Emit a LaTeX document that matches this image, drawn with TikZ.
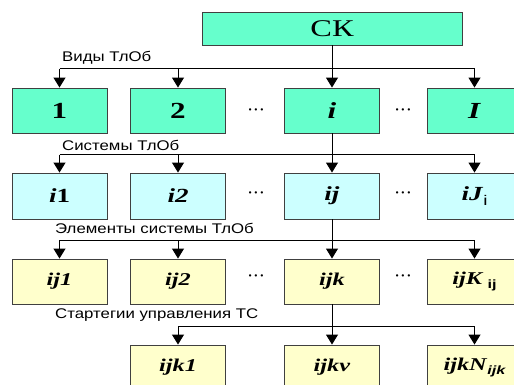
\documentclass[tikz,border=0pt]{standalone}
\usepackage{fontspec}
\setmainfont{Liberation Serif}
\newfontfamily\lsans{Liberation Sans}
\usepackage{graphicx}
\usetikzlibrary{arrows.meta}
\definecolor{aqua}{HTML}{66FFCC}
\definecolor{cyanl}{HTML}{CCFFFF}
\definecolor{yell}{HTML}{FFFFCC}
\definecolor{edge}{HTML}{404040}
\newcommand{\hx}[1]{\scalebox{1.35}[1]{#1}}
\newcommand{\lx}[1]{\scalebox{1.2}[1]{#1}}
\newcommand{\fA}{\fontsize{23}{23}\selectfont\bfseries}
\newcommand{\fB}{\fontsize{20}{20}\selectfont\bfseries}
\newcommand{\fC}{\fontsize{18}{18}\selectfont\bfseries}
\newcommand{\mydots}{\textbf{·\kern1.2pt·\kern1.2pt·}}
\begin{document}
\begin{tikzpicture}[x=1pt,y=-1pt,
 box/.style={draw=edge, line width=0.9pt, minimum width=95pt, minimum height=45pt, inner sep=0pt, anchor=center},
 gbox/.style={box, fill=aqua},
 cbox/.style={box, fill=cyanl},
 ybox/.style={box, fill=yell},
 bus/.style={line width=1pt},
 arr/.style={line width=1pt, -{Triangle[width=12pt,length=10pt]}},
 lab/.style={font=\lsans\fontsize{14}{14}\selectfont, anchor=west, inner sep=0pt},
 dotsn/.style={inner sep=0pt, font=\fontsize{14}{14}\selectfont}
]
\useasboundingbox (0,0) rectangle (514,385);
\clip (0,0) rectangle (514,385);
\fill[white] (0,0) rectangle (514,385);

% top
\node[gbox, minimum width=260pt, minimum height=33pt] (ck) at (332,28.5) {\fontsize{24}{24}\selectfont\hx{СК}};

% row 1
\node[gbox] (a1) at (59.5,110.5) {\fA\hx{1}};
\node[gbox] (a2) at (178,110.5) {\fA\hx{2}};
\node[gbox] (a3) at (332,110.5) {\fA\hx{\textit{i}}};
\node[gbox] (a4) at (474.5,110.5) {\fA\hx{\textit{I}}};

% row 2
\node[cbox, minimum height=46pt] (b1) at (59.5,196) {\fB\hx{\textit{i}1}};
\node[cbox, minimum height=46pt] (b2) at (178,196) {\fB\hx{\textit{i2}}};
\node[cbox, minimum height=46pt] (b3) at (332,196) {\fB\hx{\textit{ij}}};
\node[cbox, minimum height=46pt] (b4) at (474.5,196) {\fB\hx{\textit{iJ}\raisebox{-0.25em}{\fontsize{14}{14}\selectfont\lsans\mdseries\upshape i}}};

% row 3
\node[ybox] (c1) at (59.5,281.5) {\fC\hx{\textit{ij1}}};
\node[ybox] (c2) at (178,281.5) {\fC\hx{\textit{ij2}}};
\node[ybox] (c3) at (332,281.5) {\fC\hx{\textit{ijk}}};
\node[ybox] (c4) at (474.5,281.5) {\fC\hx{\textit{ijK}\,\raisebox{-0.25em}{\fontsize{12}{12}\selectfont\lsans\upshape ij}}};

% row 4
\node[ybox] (d2) at (178,367.5) {\fC\hx{\textit{ijk1}}};
\node[ybox] (d3) at (332,367.5) {\fC\hx{\textit{ijkv}}};
\node[ybox] (d4) at (474.5,367.5) {\fC\hx{\textit{ijkN}\raisebox{-0.25em}{\fontsize{12}{12}\selectfont\lsans\itshape ijk}}};

% dots
\node[dotsn] (p1) at (256,112) {\mydots};
\node[dotsn] (p2) at (403,112) {\mydots};
\node[dotsn] (p3) at (256,195) {\mydots};
\node[dotsn] (p4) at (403,195) {\mydots};
\node[dotsn] (p5) at (256,278) {\mydots};
\node[dotsn] (p6) at (403,278) {\mydots};

% labels
\node[lab] (l1) at (62,58) {\lx{Виды ТлОб}};
\node[lab] (l2) at (62,145) {\lx{Системы ТлОб}};
\node[lab] (l3) at (55,228) {\lx{Элементы системы ТлОб}};
\node[lab] (l4) at (55,315) {\lx{Стартегии управления ТС}};

% bus coordinates
\coordinate (h1) at (0,69);
\coordinate (h2) at (0,155);
\coordinate (h3) at (0,240);
\coordinate (h4) at (0,326);

% level 1
\draw[arr] (ck) -- (a3);
\draw[bus] (a1.north |- h1) -- (a4.north |- h1);
\foreach \n in {a1,a2,a4} \draw[arr] (\n.north |- h1) -- (\n.north);

% level 2
\draw[arr] (a3) -- (b3);
\draw[bus] (b1.north |- h2) -- (b4.north |- h2);
\foreach \n in {b1,b2,b4} \draw[arr] (\n.north |- h2) -- (\n.north);

% level 3
\draw[arr] (b3) -- (c3);
\draw[bus] (c1.north |- h3) -- (c4.north |- h3);
\foreach \n in {c1,c2,c4} \draw[arr] (\n.north |- h3) -- (\n.north);

% level 4
\draw[arr] (c3) -- (d3);
\draw[bus] (d2.north |- h4) -- (d4.north |- h4);
\foreach \n in {d2,d4} \draw[arr] (\n.north |- h4) -- (\n.north);
\end{tikzpicture}
\end{document}
